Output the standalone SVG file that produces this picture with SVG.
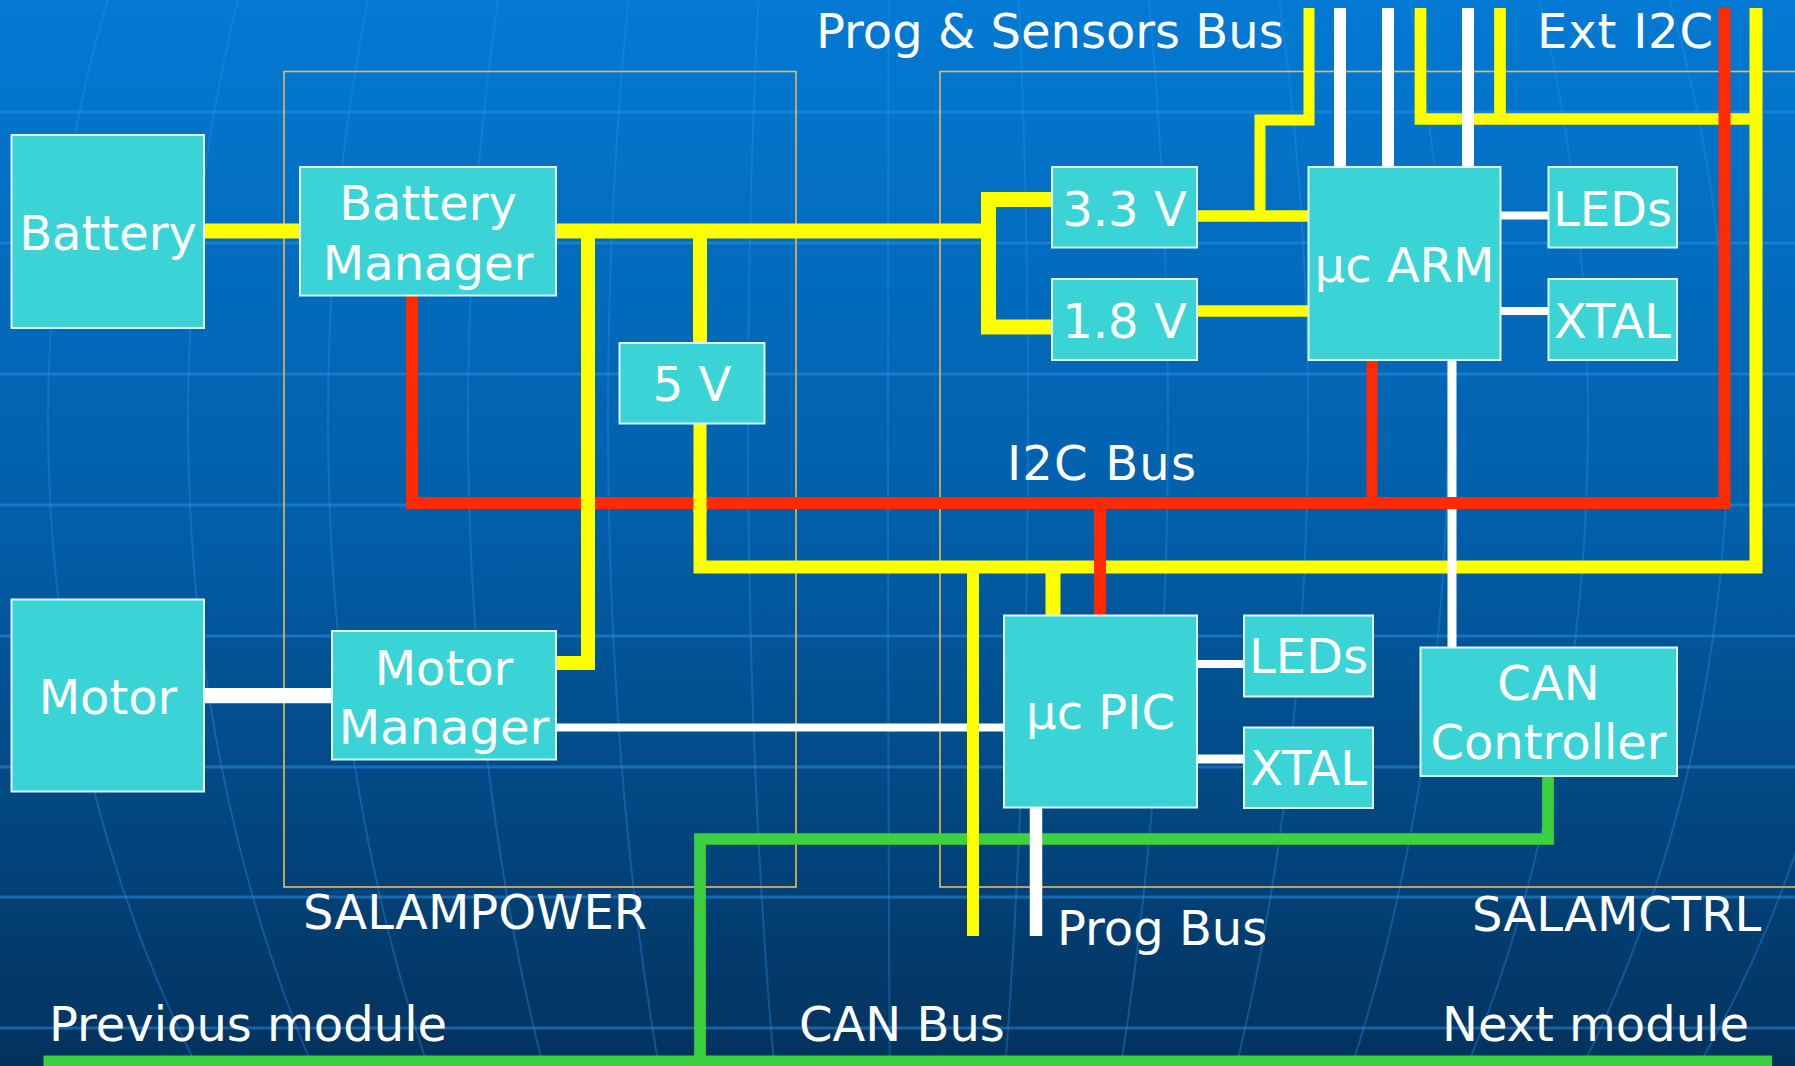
<svg xmlns="http://www.w3.org/2000/svg" width="1795" height="1066" viewBox="0 0 1795 1066">
<defs>
<linearGradient id="bg" x1="0" y1="0" x2="0" y2="1">
<stop offset="0" stop-color="#037ad4"/>
<stop offset="0.5" stop-color="#025ea8"/>
<stop offset="1" stop-color="#03325d"/>
</linearGradient>
<style>
.grid{fill:none;stroke:#2a92ea;stroke-opacity:.5;stroke-width:3}
.mer{fill:none;stroke:#2a92ea;stroke-opacity:.35;stroke-width:2}
.frame{fill:none;stroke:#e6b865;stroke-width:1.6}
.node rect{fill:#3ad4d6;stroke:#e4f4f4;stroke-width:2}
text{font-family:"DejaVu Sans","Liberation Sans",sans-serif;font-size:48px;fill:#ffffff}
.c{text-anchor:middle}
.y{fill:none;stroke:#ffff00}
.w{fill:none;stroke:#ffffff}
.r{fill:none;stroke:#ff2a00}
.g{fill:none;stroke:#3bd13f}
</style>
</defs>
<rect x="0" y="0" width="1795" height="1066" fill="url(#bg)"/>
<g id="background">
<path class="grid" d="M0,112H1795M0,243H1795M0,374H1795M0,505H1795M0,636H1795M0,767H1795M0,897H1795M0,1028H1795"/>
<path class="mer" d="M898,-722A850,1142 0 0 0 898,1562"/>
<path class="mer" d="M898,-722A710,1142 0 0 0 898,1562"/>
<path class="mer" d="M898,-722A570,1142 0 0 0 898,1562"/>
<path class="mer" d="M898,-722A430,1142 0 0 0 898,1562"/>
<path class="mer" d="M898,-722A290,1142 0 0 0 898,1562"/>
<path class="mer" d="M898,-722A150,1142 0 0 0 898,1562"/>
<path class="mer" d="M898,-722A10,1142 0 0 0 898,1562"/>
<path class="mer" d="M898,-722A130,1142 0 0 1 898,1562"/>
<path class="mer" d="M898,-722A270,1142 0 0 1 898,1562"/>
<path class="mer" d="M898,-722A410,1142 0 0 1 898,1562"/>
<path class="mer" d="M898,-722A550,1142 0 0 1 898,1562"/>
<path class="mer" d="M898,-722A690,1142 0 0 1 898,1562"/>
<path class="mer" d="M898,-722A830,1142 0 0 1 898,1562"/>
<path class="mer" d="M898,-722A970,1142 0 0 1 898,1562"/>
</g>
<g id="frames">
<rect class="frame" x="284" y="71.5" width="512" height="815.5"/>
<rect class="frame" x="940" y="71.5" width="900" height="815.5"/>
<text x="303" y="929">SALAMPOWER</text>
<text x="1472" y="931">SALAMCTRL</text>
</g>
<g id="connectors">
<path class="g" stroke-width="11" d="M43.5,1061H1772"/>
<path class="g" stroke-width="11.7" d="M1548,776V839H700V1066"/>
<path class="y" stroke-width="15" d="M204,231H300"/>
<path class="y" stroke-width="15" d="M556,231H988.5"/>
<path class="y" stroke-width="15" d="M1052,199.5H988.5V327H1052"/>
<path class="y" stroke-width="14" d="M556,663H588V231"/>
<path class="y" stroke-width="14" d="M700,231V343"/>
<path class="y" stroke-width="13" d="M700,424V567H1756V8"/>
<path class="y" stroke-width="12" d="M973,567V936"/>
<path class="y" stroke-width="15" d="M1053,567V616"/>
<path class="y" stroke-width="11.5" d="M1197,216H1308"/>
<path class="y" stroke-width="11" d="M1260,216V120H1309V8"/>
<path class="y" stroke-width="11.5" d="M1197,311H1308"/>
<path class="y" stroke-width="11.7" d="M1420.5,8V119H1756"/>
<path class="y" stroke-width="11.7" d="M1500,8V119"/>
<path class="w" stroke-width="15.4" d="M204,695.6H332"/>
<path class="w" stroke-width="8" d="M556,727.6H1004"/>
<path class="w" stroke-width="12" d="M1340,8V167M1388,8V167M1468,8V167"/>
<path class="w" stroke-width="8" d="M1500,215.6H1548M1500,311H1548"/>
<path class="w" stroke-width="9" d="M1452,360V647"/>
<path class="w" stroke-width="8" d="M1197,664H1244"/>
<path class="w" stroke-width="9" d="M1197,759H1244"/>
<path class="w" stroke-width="12.5" d="M1036,807V936"/>
<path class="r" stroke-width="12" d="M412,295V503H1724.5V8"/>
<path class="r" stroke-width="11" d="M1372,360V503"/>
<path class="r" stroke-width="12" d="M1100,503V616"/>
<path class="y" stroke-width="12" d="M973,718V737"/>
<path class="y" stroke-width="14" d="M588,494V512"/>
<path class="y" stroke-width="13" d="M700,494V512"/>
</g>
<g id="battery" class="node"><rect x="11.5" y="135" width="192.5" height="193"/><text class="c" x="108" y="250">Battery</text></g>
<g id="battery-manager" class="node"><rect x="300" y="167" width="256" height="128.5"/><text class="c" x="428" y="220">Battery</text><text class="c" x="428" y="280">Manager</text></g>
<g id="v5" class="node"><rect x="619.5" y="343" width="145" height="80.5"/><text class="c" x="692" y="401">5 V</text></g>
<g id="motor" class="node"><rect x="11.5" y="599.5" width="192.5" height="192"/><text class="c" x="108" y="714">Motor</text></g>
<g id="motor-manager" class="node"><rect x="332" y="631" width="224" height="128.5"/><text class="c" x="444" y="684.5">Motor</text><text class="c" x="444" y="744">Manager</text></g>
<g id="v33" class="node"><rect x="1052" y="167" width="145" height="80.5"/><text class="c" x="1124.5" y="225.5">3.3 V</text></g>
<g id="v18" class="node"><rect x="1052" y="279" width="145" height="81"/><text class="c" x="1124.5" y="337.5">1.8 V</text></g>
<g id="uc-arm" class="node"><rect x="1308.5" y="167" width="192" height="193"/><text class="c" x="1404.5" y="282">µc ARM</text></g>
<g id="leds-arm" class="node"><rect x="1548.5" y="167" width="128.5" height="80.5"/><text class="c" x="1612.5" y="225.5">LEDs</text></g>
<g id="xtal-arm" class="node"><rect x="1548.5" y="279" width="128.5" height="81"/><text class="c" x="1612.5" y="337.5">XTAL</text></g>
<g id="uc-pic" class="node"><rect x="1004" y="615.5" width="193" height="192"/><text class="c" x="1100.5" y="729">µc PIC</text></g>
<g id="leds-pic" class="node"><rect x="1244" y="615.5" width="129" height="81"/><text class="c" x="1308.5" y="673">LEDs</text></g>
<g id="xtal-pic" class="node"><rect x="1244" y="727.5" width="129" height="80.5"/><text class="c" x="1308.5" y="785">XTAL</text></g>
<g id="can-controller" class="node"><rect x="1420.5" y="647.5" width="256.5" height="128.5"/><text class="c" x="1548.5" y="700">CAN</text><text class="c" x="1548.5" y="759">Controller</text></g>
<g id="labels">
<text x="816" y="48">Prog &amp; Sensors Bus</text>
<text x="1537" y="48" textLength="176">Ext I2C</text>
<text x="1007" y="480" textLength="189">I2C Bus</text>
<text x="1057" y="945">Prog Bus</text>
<text x="49" y="1041">Previous module</text>
<text x="799" y="1041">CAN Bus</text>
<text x="1442" y="1041">Next module</text>
</g>
</svg>
